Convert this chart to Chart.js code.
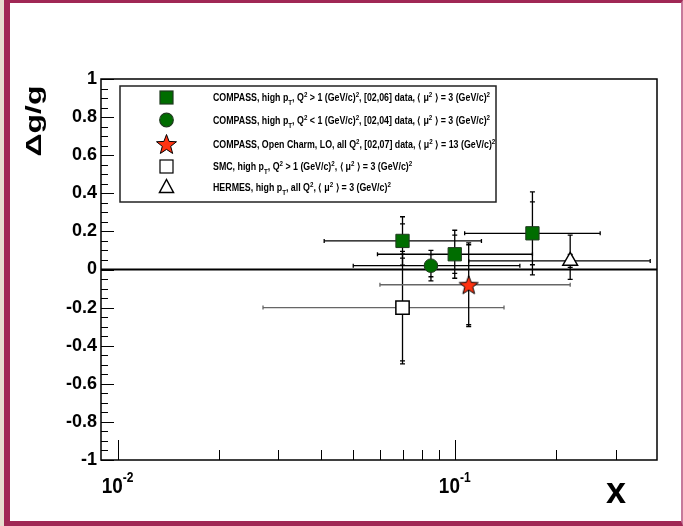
<!DOCTYPE html>
<html>
<head>
<meta charset="utf-8">
<script src="https://cdn.jsdelivr.net/npm/chart.js@4.4.1/dist/chart.umd.min.js"></script>
<style>
  html, body { margin: 0; padding: 0; }
  body { width: 683px; height: 526px; background: #e7ddcf; position: relative; overflow: hidden; }
  .frame {
    position: absolute; left: 4px; top: 0; width: 671px; height: 518px;
    background: #fff;
    border-left: 6px solid #a02855; border-top: 3px solid #a02855;
    border-bottom: 5px solid #a02855; border-right: 2px solid #c7799b;
  }
  #dgChart { position: absolute; left: 0; top: 0; }
</style>
</head>
<body>
<div class="frame"></div>
<canvas id="dgChart" width="683" height="526"></canvas>
<script>
// COMPASS high pT, Q2 > 1, three x bins
const compassHighX = [0.07, 0.10, 0.17];
const compassHighY = [0.15, 0.08, 0.19];
const compassHighStat = [0.09, 0.10, 0.165];
const compassHighErr = [0.127, 0.126, 0.218];
const compassHighXLo = [0.041, 0.059, 0.107];
const compassHighXHi = [0.12, 0.17, 0.27];

// COMPASS high pT, Q2 < 1
const compassLowX = [0.085];
const compassLowY = [0.02];
const compassLowStat = [0.058];
const compassLowErr = [0.08];
const compassLowXLo = [0.05];
const compassLowXHi = [0.156];

// COMPASS open charm
const charmX = [0.11];
const charmY = [-0.08];
const charmStat = [0.21];
const charmErr = [0.22];
const charmXLo = [0.06];
const charmXHi = [0.22];

// SMC
const smcX = [0.07];
const smcY = [-0.20];
const smcStat = [0.28];
const smcErr = [0.295];
const smcXLo = [0.027];
const smcXHi = [0.14];

// HERMES (asymmetric)
const hermesX = [0.22];
const hermesY = [0.045];
const hermesStat = [0.034];
const hermesErrUp = [0.135];
const hermesErrDown = [0.097];
const hermesXLo = [0.11];
const hermesXHi = [0.38];

const xMajorTicks = [0.01, 0.1];
const xMajorExp = ["-2", "-1"];
const xMinorTicks = [0.02, 0.03, 0.04, 0.05, 0.06, 0.07, 0.08, 0.09, 0.2, 0.3];
const yMajorStep = 0.2;
const yMinorStep = 0.05;

const FONT = '"Liberation Sans", Arial, sans-serif';

// filled 5-point star used as point style
function makeStar(r, fill) {
  const c = document.createElement("canvas");
  c.width = c.height = Math.ceil(r * 2 + 4);
  const g = c.getContext("2d");
  drawStar(g, c.width / 2, c.height / 2 + 1, r, fill);
  return c;
}
function drawStar(g, cx, cy, r, fill) {
  g.beginPath();
  for (let i = 0; i < 10; i++) {
    const rr = i % 2 ? r * 0.42 : r;
    const a = -Math.PI / 2 + i * Math.PI / 5;
    const px = cx + rr * Math.cos(a), py = cy + rr * Math.sin(a);
    i ? g.lineTo(px, py) : g.moveTo(px, py);
  }
  g.closePath();
  g.fillStyle = fill;
  g.fill();
  g.lineWidth = 1;
  g.strokeStyle = "#000";
  g.stroke();
}
const starImg = makeStar(10, "#ff3311");

function pts(xs, ys) {
  return xs.map((v, i) => ({ x: v, y: ys[i] }));
}

const datasets = [
  {
    label: "COMPASS high pT Q2>1",
    data: pts(compassHighX, compassHighY),
    stat: compassHighStat, errUp: compassHighErr, errDown: compassHighErr,
    xLo: compassHighXLo, xHi: compassHighXHi, hColor: "#000",
    pointStyle: "rect", pointRadius: 9.4,
    backgroundColor: "#006d00", borderColor: "#1f3a1f", borderWidth: 1
  },
  {
    label: "COMPASS high pT Q2<1",
    data: pts(compassLowX, compassLowY),
    stat: compassLowStat, errUp: compassLowErr, errDown: compassLowErr,
    xLo: compassLowXLo, xHi: compassLowXHi, hColor: "#000",
    pointStyle: "circle", pointRadius: 6.8,
    backgroundColor: "#006d00", borderColor: "#1f3a1f", borderWidth: 1
  },
  {
    label: "SMC",
    data: pts(smcX, smcY),
    stat: smcStat, errUp: smcErr, errDown: smcErr,
    xLo: smcXLo, xHi: smcXHi, hColor: "#666",
    pointStyle: "rect", pointRadius: 9.4,
    backgroundColor: "#fff", borderColor: "#000", borderWidth: 1.5
  },
  {
    label: "COMPASS open charm",
    data: pts(charmX, charmY),
    stat: charmStat, errUp: charmErr, errDown: charmErr,
    xLo: charmXLo, xHi: charmXHi, hColor: "#666",
    pointStyle: starImg, pointRadius: 10
  },
  {
    label: "HERMES",
    data: pts(hermesX, hermesY),
    stat: hermesStat, errUp: hermesErrUp, errDown: hermesErrDown,
    xLo: hermesXLo, xHi: hermesXHi, hColor: "#000",
    pointStyle: "triangle", pointRadius: 8.5,
    backgroundColor: "#fff", borderColor: "#000", borderWidth: 1.5
  }
];

const legendRows = [
  { marker: "sq", runs: [["COMPASS, high p", "n"], ["T", "sub"], [", Q", "n"], ["2", "sup"], [" > 1 (GeV/c)", "n"], ["2", "sup"], [", [02,06] data, \u27E8 \u03BC", "n"], ["2", "sup"], [" \u27E9 = 3 (GeV/c)", "n"], ["2", "sup"]] },
  { marker: "circ", runs: [["COMPASS, high p", "n"], ["T", "sub"], [", Q", "n"], ["2", "sup"], [" < 1 (GeV/c)", "n"], ["2", "sup"], [", [02,04] data, \u27E8 \u03BC", "n"], ["2", "sup"], [" \u27E9 = 3 (GeV/c)", "n"], ["2", "sup"]] },
  { marker: "star", runs: [["COMPASS, Open Charm, LO, all Q", "n"], ["2", "sup"], [", [02,07] data, \u27E8 \u03BC", "n"], ["2", "sup"], [" \u27E9 = 13 (GeV/c)", "n"], ["2", "sup"]] },
  { marker: "open", runs: [["SMC, high p", "n"], ["T", "sub"], [", Q", "n"], ["2", "sup"], [" > 1 (GeV/c)", "n"], ["2", "sup"], [", \u27E8 \u03BC", "n"], ["2", "sup"], [" \u27E9 = 3 (GeV/c)", "n"], ["2", "sup"]] },
  { marker: "tri", runs: [["HERMES, high p", "n"], ["T", "sub"], [", all Q", "n"], ["2", "sup"], [", \u27E8 \u03BC", "n"], ["2", "sup"], [" \u27E9 = 3 (GeV/c)", "n"], ["2", "sup"]] }
];

function runFont(m) {
  return m === "n" ? "bold 10px " + FONT : "bold 7px " + FONT;
}
function runsWidth(ctx, runs) {
  let w = 0;
  runs.forEach(([t, m]) => { ctx.font = runFont(m); w += ctx.measureText(t).width; });
  return w;
}
function drawRuns(ctx, runs, x, y, sx) {
  ctx.save();
  ctx.translate(x, y);
  ctx.scale(sx, 1);
  ctx.textAlign = "left";
  ctx.textBaseline = "alphabetic";
  let cx = 0;
  runs.forEach(([t, m]) => {
    ctx.font = runFont(m);
    const dy = m === "sub" ? 4 : m === "sup" ? -4 : 0;
    ctx.fillText(t, cx, dy);
    cx += ctx.measureText(t).width;
  });
  ctx.restore();
}

function legendMarker(ctx, kind, x, y) {
  ctx.save();
  ctx.lineWidth = 1.2;
  if (kind === "sq" || kind === "open") {
    ctx.fillStyle = kind === "sq" ? "#006d00" : "#fff";
    ctx.strokeStyle = kind === "sq" ? "#1f3a1f" : "#000";
    ctx.fillRect(x - 6.5, y - 6.5, 13, 13);
    ctx.strokeRect(x - 6.5, y - 6.5, 13, 13);
  } else if (kind === "circ") {
    ctx.beginPath();
    ctx.arc(x, y, 6.8, 0, Math.PI * 2);
    ctx.fillStyle = "#006d00";
    ctx.strokeStyle = "#1f3a1f";
    ctx.fill();
    ctx.stroke();
  } else if (kind === "star") {
    drawStar(ctx, x, y + 1, 10.5, "#ff3311");
  } else {
    ctx.beginPath();
    ctx.moveTo(x, y - 8);
    ctx.lineTo(x + 7, y + 5);
    ctx.lineTo(x - 7, y + 5);
    ctx.closePath();
    ctx.fillStyle = "#fff";
    ctx.fill();
    ctx.strokeStyle = "#000";
    ctx.lineWidth = 1.5;
    ctx.stroke();
  }
  ctx.restore();
}

const rootStyle = {
  id: "rootStyle",
  beforeDatasetsDraw(chart) {
    const { ctx, chartArea: a, scales: { x, y } } = chart;
    ctx.save();
    // zero line
    const y0 = y.getPixelForValue(0);
    ctx.strokeStyle = "#000";
    ctx.lineWidth = 2;
    ctx.beginPath();
    ctx.moveTo(a.left, y0);
    ctx.lineTo(a.right, y0);
    ctx.stroke();

    // error bars
    chart.data.datasets.forEach(ds => {
      ds.data.forEach((p, i) => {
        const px = x.getPixelForValue(p.x);
        const py = y.getPixelForValue(p.y);
        const top = y.getPixelForValue(p.y + ds.errUp[i]);
        const bot = y.getPixelForValue(p.y - ds.errDown[i]);
        const sTop = y.getPixelForValue(p.y + ds.stat[i]);
        const sBot = y.getPixelForValue(p.y - ds.stat[i]);
        const l = x.getPixelForValue(ds.xLo[i]);
        const r = x.getPixelForValue(ds.xHi[i]);

        ctx.lineWidth = 1.3;
        ctx.strokeStyle = ds.hColor;
        ctx.beginPath();
        ctx.moveTo(l, py); ctx.lineTo(r, py);
        ctx.moveTo(l, py - 2); ctx.lineTo(l, py + 2);
        ctx.moveTo(r, py - 2); ctx.lineTo(r, py + 2);
        ctx.stroke();

        ctx.strokeStyle = "#000";
        ctx.beginPath();
        ctx.moveTo(px, top); ctx.lineTo(px, bot);
        [top, bot, sTop, sBot].forEach(v => {
          ctx.moveTo(px - 2.5, v); ctx.lineTo(px + 2.5, v);
        });
        ctx.stroke();
      });
    });
    ctx.restore();
  },
  afterDraw(chart) {
    const { ctx, chartArea: a, scales: { x, y } } = chart;
    ctx.save();
    ctx.strokeStyle = "#000";

    // ticks pointing inwards
    ctx.lineWidth = 1;
    ctx.beginPath();
    for (let v = -1; v <= 1.0001; v += yMinorStep) {
      const py = Math.round(y.getPixelForValue(v)) + 0.5;
      const major = Math.abs(v / yMajorStep - Math.round(v / yMajorStep)) < 1e-6;
      ctx.moveTo(a.left, py);
      ctx.lineTo(a.left + (major ? 13 : 7), py);
    }
    xMajorTicks.forEach(v => {
      const px = Math.round(x.getPixelForValue(v)) + 0.5;
      ctx.moveTo(px, a.bottom); ctx.lineTo(px, a.bottom - 20);
    });
    xMinorTicks.forEach(v => {
      const px = Math.round(x.getPixelForValue(v)) + 0.5;
      ctx.moveTo(px, a.bottom); ctx.lineTo(px, a.bottom - 10);
    });
    ctx.stroke();

    // frame
    ctx.lineWidth = 1.5;
    ctx.strokeRect(a.left, a.top, a.right - a.left, a.bottom - a.top);

    // x tick labels 10^n
    ctx.fillStyle = "#000";
    ctx.textBaseline = "alphabetic";
    xMajorTicks.forEach((v, i) => {
      const px = x.getPixelForValue(v);
      ctx.font = "bold 22px " + FONT;
      const w1 = ctx.measureText("10").width * 0.86;
      ctx.font = "bold 14px " + FONT;
      const w2 = ctx.measureText(xMajorExp[i]).width * 0.86;
      const left = px - (w1 + w2) / 2;
      ctx.save();
      ctx.translate(left, 493);
      ctx.scale(0.86, 1);
      ctx.font = "bold 22px " + FONT;
      ctx.textAlign = "left";
      ctx.fillText("10", 0, 0);
      ctx.font = "bold 14px " + FONT;
      ctx.fillText(xMajorExp[i], w1 / 0.86, -11);
      ctx.restore();
    });

    // axis titles
    ctx.textAlign = "center";
    ctx.font = "bold 36px " + FONT;
    ctx.fillText("x", 616, 503);
    ctx.save();
    ctx.translate(41, 121);
    ctx.rotate(-Math.PI / 2);
    ctx.scale(1, 0.68);
    ctx.font = "bold 32px " + FONT;
    ctx.fillText("\u0394g/g", 0, 0);
    ctx.restore();

    // legend
    ctx.fillStyle = "#fff";
    ctx.fillRect(120, 86, 376, 116);
    ctx.lineWidth = 1.5;
    ctx.strokeStyle = "#222";
    ctx.strokeRect(120, 86, 376, 116);
    const rowY = [97.5, 120, 144, 166.5, 187.5];
    const sx = 277 / runsWidth(ctx, legendRows[0].runs);
    ctx.fillStyle = "#000";
    legendRows.forEach((row, i) => {
      legendMarker(ctx, row.marker, 166.5, rowY[i]);
      ctx.fillStyle = "#000";
      drawRuns(ctx, row.runs, 213, rowY[i] + 3.5, sx);
    });
    ctx.restore();
  }
};

new Chart(document.getElementById("dgChart"), {
  type: "scatter",
  data: { datasets: datasets },
  options: {
    responsive: false,
    animation: false,
    layout: { padding: { left: 0, top: 79, right: 26, bottom: 66 } },
    plugins: { legend: { display: false }, tooltip: { enabled: false } },
    scales: {
      x: {
        type: "logarithmic",
        min: 0.00893,
        max: 0.398,
        display: false
      },
      y: {
        min: -1,
        max: 1,
        grid: { display: false, drawTicks: false },
        border: { display: false },
        afterFit: s => { s.width = 101; },
        ticks: {
          stepSize: yMajorStep,
          autoSkip: false,
          padding: 4,
          color: "#000",
          font: { family: FONT, weight: "bold", size: 18 },
          callback: v => String(Math.round(v * 10) / 10)
        }
      }
    }
  },
  plugins: [rootStyle]
});
</script>
</body>
</html>
